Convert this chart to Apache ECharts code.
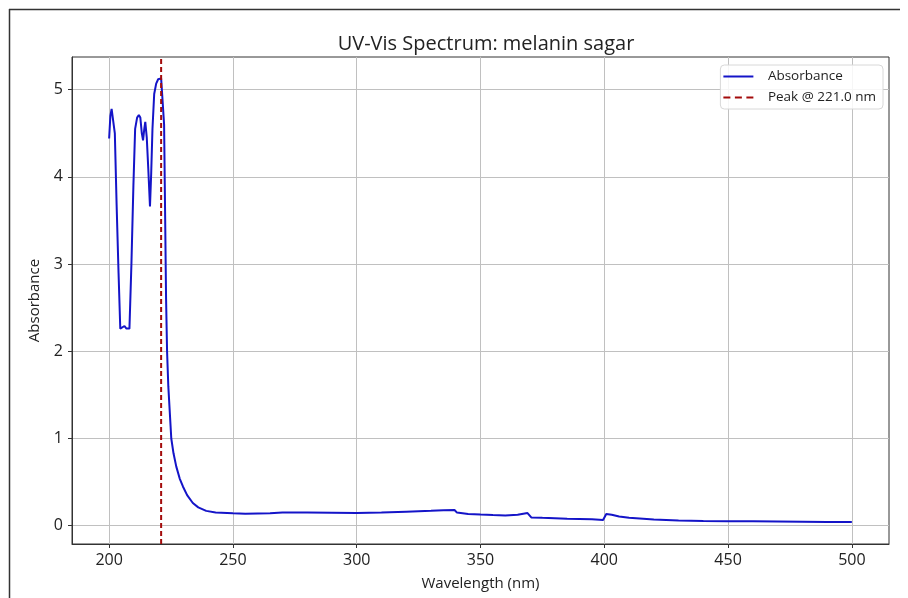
<!DOCTYPE html>
<html>
<head>
<meta charset="utf-8">
<script src="https://cdn.jsdelivr.net/npm/echarts@6/dist/echarts.min.js"></script>
<style>
html,body{margin:0;padding:0;background:#fff;}
#chart{width:908px;height:598px;}
</style>
</head>
<body>
<div id="chart"></div>
<script>
// ---- data ----
const wavelength = [
  200, 200.5, 201, 201.7, 202.3, 203, 203.8, 204.5, 205.3, 206.2, 207, 208.2,
  209, 209.8, 210.5, 211.3, 212, 212.6, 213.2, 213.7, 214.2, 214.6, 215.2, 215.8,
  216.5, 217, 217.5, 218.2, 219, 219.8, 220.5, 221, 221.8, 222.2, 222.6, 223,
  223.4, 223.9, 224.5, 225.1, 226, 227.1, 228.5, 229.8, 231.5, 233.8, 236, 239.2,
  243, 250, 255, 260, 265, 270, 280, 290, 300, 310, 320, 330, 335, 339.5, 340.5,
  345, 350, 355, 360, 365, 369, 370.5, 375, 385, 395, 399.5, 400.8, 403, 406,
  410, 420, 430, 440, 450, 460, 470, 480, 490, 500
];
const absorbance = [
  4.44, 4.70, 4.78, 4.76, 4.50, 3.70, 2.90, 2.26, 2.27, 2.29, 2.26, 2.26,
  3.00, 3.90, 4.55, 4.68, 4.71, 4.68, 4.50, 4.42, 4.55, 4.63, 4.45, 4.10,
  3.66, 4.05, 4.55, 4.95, 5.07, 5.12, 5.13, 5.13, 5.12, 4.60, 3.60, 2.60,
  2.00, 1.60, 1.30, 1.00, 0.83, 0.68, 0.54, 0.45, 0.35, 0.26, 0.21, 0.17,
  0.152, 0.142, 0.138, 0.140, 0.142, 0.150, 0.152, 0.148, 0.145, 0.150, 0.160, 0.170, 0.178, 0.180, 0.150,
  0.135, 0.128, 0.122, 0.118, 0.125, 0.145, 0.095, 0.090, 0.080, 0.075, 0.065, 0.135, 0.125, 0.105,
  0.090, 0.070, 0.060, 0.055, 0.052, 0.050, 0.048, 0.045, 0.043, 0.042
];
const peakWavelength = 221.0;
const xTicks = [200, 250, 300, 350, 400, 450, 500];
const yTicks = [0, 1, 2, 3, 4, 5];
const xRange = [185, 515];
const yRange = [-0.21, 5.375];
const titleText = 'UV-Vis Spectrum: melanin sagar';
const seriesName = 'Absorbance';
const peakName = 'Peak @ ' + peakWavelength.toFixed(1) + ' nm';

const mainData = wavelength.map((w, i) => [w, absorbance[i]]);
const peakData = [[peakWavelength, yRange[0]], [peakWavelength, yRange[1]]];

const FONT = '"Open Sans", "Noto Sans", sans-serif';
const LINE_BLUE = '#1414c8';
const PEAK_RED = '#a30b0b';
const solidIcon = 'path://M0,0H30V2H0Z';
const dashIcon = 'path://M0,0H7V2H0Z M11.5,0H18.5V2H11.5Z M23,0H30V2H23Z';

const chart = echarts.init(document.getElementById('chart'), null, {renderer: 'canvas'});
chart.setOption({
  animation: false,
  backgroundColor: '#ffffff',
  textStyle: {fontFamily: FONT},
  title: {
    text: titleText,
    left: 481, top: 29, textAlign: 'center',
    textStyle: {fontSize: 20, fontWeight: 'normal', color: '#222', fontFamily: FONT}
  },
  grid: {
    left: 72, top: 57, right: 19, bottom: 54,
    show: true, borderColor: '#333', borderWidth: 1, backgroundColor: 'transparent'
  },
  legend: {
    orient: 'vertical',
    right: 25, top: 65,
    padding: [3, 7, 3, 3],
    itemWidth: 31, itemHeight: 2, itemGap: 4,
    backgroundColor: 'rgba(255,255,255,0.85)',
    borderColor: '#d8d8d8', borderWidth: 1, borderRadius: 4,
    textStyle: {fontSize: 13.5, color: '#222', fontFamily: FONT, padding: [0, 0, 0, 9], lineHeight: 17},
    data: [
      {name: seriesName, icon: solidIcon, itemStyle: {color: LINE_BLUE}},
      {name: peakName, icon: dashIcon, itemStyle: {color: PEAK_RED}}
    ]
  },
  xAxis: {
    type: 'value', min: xRange[0], max: xRange[1],
    name: 'Wavelength (nm)', nameLocation: 'middle', nameGap: 32,
    nameTextStyle: {fontSize: 15, color: '#222', fontFamily: FONT},
    axisLine: {show: true, onZero: false, lineStyle: {color: '#333', width: 1}},
    axisTick: {show: true, length: 4, lineStyle: {color: '#333'}, customValues: xTicks},
    axisLabel: {fontSize: 16, color: '#222', margin: 8, customValues: xTicks, fontFamily: FONT},
    splitLine: {show: true, lineStyle: {color: '#c0c0c0', width: 1}}
  },
  yAxis: {
    type: 'value', min: yRange[0], max: yRange[1],
    name: 'Absorbance', nameLocation: 'middle', nameGap: 30,
    nameTextStyle: {fontSize: 15, color: '#222', fontFamily: FONT},
    axisLine: {show: true, onZero: false, lineStyle: {color: '#333', width: 1}},
    axisTick: {show: true, length: 4, lineStyle: {color: '#333'}, customValues: yTicks},
    axisLabel: {fontSize: 16, color: '#222', margin: 9, customValues: yTicks, fontFamily: FONT},
    splitLine: {show: true, lineStyle: {color: '#c0c0c0', width: 1}}
  },
  series: [
    {
      name: seriesName, type: 'line', data: mainData,
      showSymbol: false, symbol: 'none', smooth: false,
      lineStyle: {color: LINE_BLUE, width: 2},
      itemStyle: {color: LINE_BLUE},
      z: 3
    },
    {
      name: peakName, type: 'line', data: peakData,
      showSymbol: false, symbol: 'none',
      lineStyle: {color: PEAK_RED, width: 2, type: [5, 3]},
      itemStyle: {color: PEAK_RED},
      z: 4
    }
  ],
  graphic: [
    {type: 'line', shape: {x1: 9, y1: 9.5, x2: 900, y2: 9.5}, style: {stroke: '#333', lineWidth: 1.5}, silent: true},
    {type: 'line', shape: {x1: 9.5, y1: 9, x2: 9.5, y2: 598}, style: {stroke: '#333', lineWidth: 1.5}, silent: true}
  ]
});
</script>
</body>
</html>
